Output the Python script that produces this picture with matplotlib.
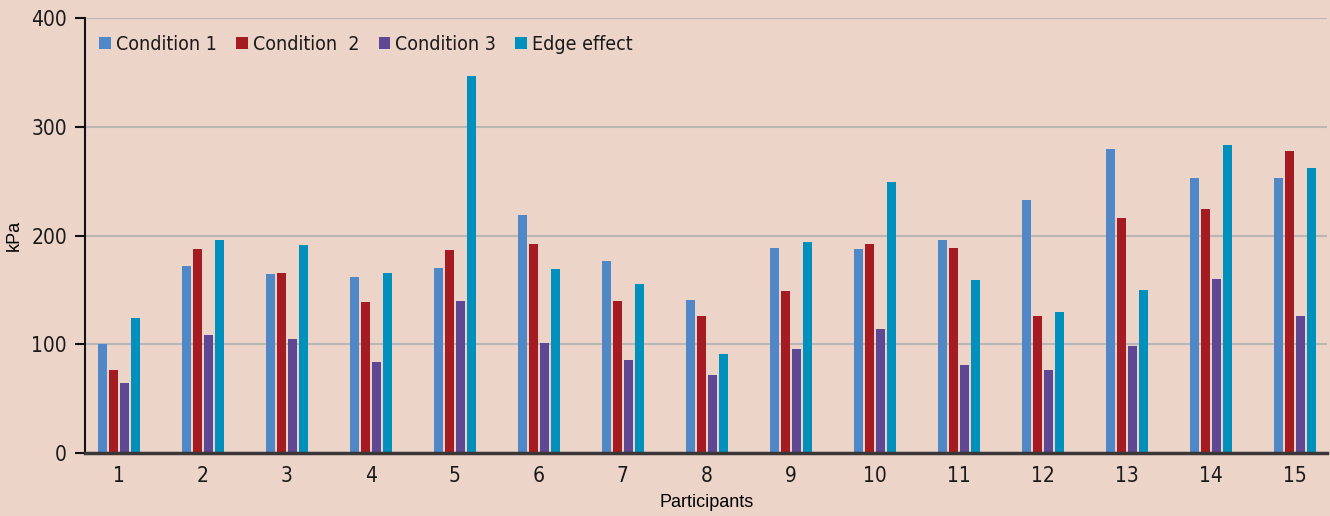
import numpy as np
import matplotlib
matplotlib.use('Agg')
import matplotlib.pyplot as plt
from matplotlib.font_manager import FontProperties

participants = [str(i) for i in range(1, 16)]
condition_1 = [100, 172, 165, 162, 170, 219, 177, 141, 189, 188, 196, 233, 280, 253, 253]
condition_2 = [76, 188, 166, 139, 187, 192, 140, 126, 149, 192, 189, 126, 216, 224, 278]
condition_3 = [64, 109, 105, 84, 140, 101, 86, 72, 96, 114, 81, 76, 98, 160, 126]
edge_effect = [124, 196, 191, 166, 347, 169, 155, 91, 194, 249, 159, 130, 150, 283, 262]

series = [
    ('Condition 1', condition_1, '#4f87c7'),
    ('Condition  2', condition_2, '#a41c22'),
    ('Condition 3', condition_3, '#5e4893'),
    ('Edge effect', edge_effect, '#0090bb'),
]

# condensed look like the original
narrow = FontProperties(family='DejaVu Sans', stretch='condensed', size=15)
narrow_leg = FontProperties(family='DejaVu Sans', stretch='condensed', size=14)

bg = '#edd4c9'
fig = plt.figure(figsize=(13.3, 5.16), dpi=100)
fig.set_facecolor(bg)
ax = fig.add_axes([0.064, 0.122, 0.934, 0.843])
ax.set_facecolor(bg)

x = np.arange(1, 16)
step = 0.131
width = 0.107
for i, (label, vals, color) in enumerate(series):
    ax.bar(x + (i - 1.5) * step, vals, width=width, color=color, label=label, zorder=3)

ax.set_ylim(0, 400)
ax.set_xlim(0.595, 15.39)
ax.set_yticks([0, 100, 200, 300, 400])
ax.set_xticks(x)
ax.set_xticklabels(participants)
ax.yaxis.grid(True, color='#b9b6b4', linewidth=1.5, zorder=0)

for side in ['top', 'right']:
    ax.spines[side].set_visible(False)
ax.spines['left'].set_color('#111111')
ax.spines['left'].set_linewidth(1.5)
ax.spines['bottom'].set_color('#3a3636')
ax.spines['bottom'].set_linewidth(2.5)
ax.spines['bottom'].set_zorder(4)

ax.tick_params(axis='y', length=7, width=1.5, color='#111111', pad=6)
ax.tick_params(axis='x', length=0, pad=9)
for lbl in ax.get_xticklabels() + ax.get_yticklabels():
    lbl.set_fontproperties(narrow)
    lbl.set_color('#1a1a1a')

ax.set_ylabel('kPa', fontsize=13, family='Liberation Sans', labelpad=6)
ax.set_xlabel('Participants', fontsize=13, family='Liberation Sans', labelpad=6)

leg = ax.legend(loc='upper left', ncol=4, frameon=False, bbox_to_anchor=(0.002, 0.988),
                prop=narrow_leg, handlelength=0.6, handleheight=0.6,
                handletextpad=0.25, columnspacing=1.0, borderaxespad=0.2)
for t in leg.get_texts():
    t.set_color('#1a1a1a')

fig.savefig('out.png', dpi=100, facecolor=bg)
